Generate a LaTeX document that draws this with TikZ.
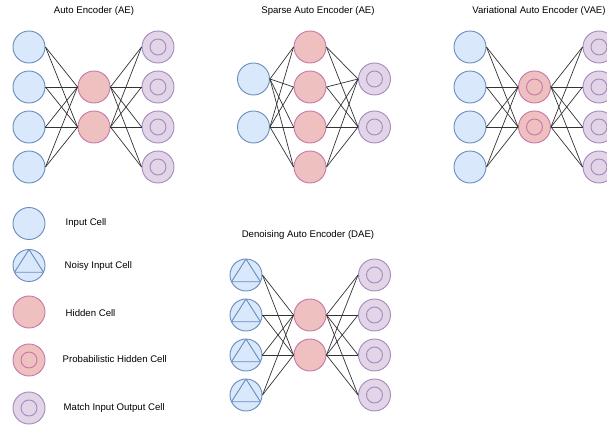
\documentclass[tikz,border=0pt]{standalone}
\usepackage{fontspec}
\setmainfont{Liberation Sans}
\definecolor{infill}{HTML}{DAE8FC}
\definecolor{inedge}{HTML}{6C8EBF}
\definecolor{hidfill}{HTML}{EFC0C0}
\definecolor{hidedge}{HTML}{C878A8}
\definecolor{outfill}{HTML}{E1D5E7}
\definecolor{outedge}{HTML}{A68BBE}
\definecolor{linkgray}{HTML}{333333}
\begin{document}
\begin{tikzpicture}[x=0.03cm,y=-0.03cm,
    cell/.style={circle,minimum size=0.96cm,inner sep=0pt,line width=0.8pt},
    incell/.style={cell,fill=infill,draw=inedge},
    noisycell/.style={incell,path picture={\draw[inedge,line width=0.8pt]
        (path picture bounding box.center) +(90:0.48cm) -- +(205:0.48cm) -- +(335:0.48cm) -- cycle;}},
    hidcell/.style={cell,fill=hidfill,draw=hidedge},
    probcell/.style={hidcell,path picture={\draw[hidedge,line width=0.8pt]
        (path picture bounding box.center) circle [radius=0.24cm];}},
    matchcell/.style={cell,fill=outfill,draw=outedge,path picture={\draw[outedge,line width=0.8pt]
        (path picture bounding box.center) circle [radius=0.24cm];}},
    link/.style={linkgray,line width=0.6pt},
    title/.style={font=\fontsize{8.2}{10}\selectfont},
    legtext/.style={font=\fontsize{8.2}{10}\selectfont,anchor=west,inner sep=0pt}]
        \useasboundingbox (0,0) rectangle (607,426);

        % Auto Encoder
        \node[title] (aetitle) at (94,11) {Auto Encoder (AE)};
        \foreach \i/\y in {1/47,2/87,3/127,4/167} {
            \node[incell] (aein\i) at (29,\y) {};
            \node[matchcell] (aeout\i) at (158,\y) {};
        }
        \node[hidcell] (aehid1) at (94,87) {};
        \node[hidcell] (aehid2) at (94,127) {};
        \foreach \i in {1,...,4} \foreach \j in {1,2} {
            \draw[link] (aein\i.east) -- (aehid\j.west);
            \draw[link] (aehid\j.east) -- (aeout\i.west);
        }

        % Sparse Auto Encoder
        \node[title] (saetitle) at (318,11) {Sparse Auto Encoder (AE)};
        \foreach \j/\y in {1/47,2/87,3/127,4/167}
            \node[hidcell] (saehid\j) at (310,\y) {};
        \foreach \i/\y in {1/79,2/127} {
            \node[incell] (saein\i) at (253.5,\y) {};
            \node[matchcell] (saeout\i) at (374.5,\y) {};
        }
        \foreach \i in {1,2} \foreach \j in {1,...,4} {
            \draw[link] (saein\i.east) -- (saehid\j.west);
            \draw[link] (saehid\j.east) -- (saeout\i.west);
        }

        % Variational Auto Encoder
        \node[title] (vaetitle) at (539,11) {Variational Auto Encoder (VAE)};
        \foreach \i/\y in {1/47,2/87,3/127,4/167} {
            \node[incell] (vaein\i) at (470,\y) {};
            \node[matchcell] (vaeout\i) at (599,\y) {};
        }
        \node[probcell] (vaehid1) at (534.5,87) {};
        \node[probcell] (vaehid2) at (534.5,127) {};
        \foreach \i in {1,...,4} \foreach \j in {1,2} {
            \draw[link] (vaein\i.east) -- (vaehid\j.west);
            \draw[link] (vaehid\j.east) -- (vaeout\i.west);
        }

        % Denoising Auto Encoder
        \node[title] (daetitle) at (308,235) {Denoising Auto Encoder (DAE)};
        \foreach \i/\y in {1/275,2/315,3/355,4/395} {
            \node[noisycell] (daein\i) at (246,\y) {};
            \node[matchcell] (daeout\i) at (374.5,\y) {};
        }
        \node[hidcell] (daehid1) at (310,315) {};
        \node[hidcell] (daehid2) at (310,355) {};
        \foreach \i in {1,...,4} \foreach \j in {1,2} {
            \draw[link] (daein\i.east) -- (daehid\j.west);
            \draw[link] (daehid\j.east) -- (daeout\i.west);
        }

        % legend
        \node[incell] (leginput) at (29,223.5) {};
        \node[noisycell] (legnoisy) at (29,265.5) {};
        \node[hidcell] (leghidden) at (29,312) {};
        \node[probcell] (legprob) at (29,360) {};
        \node[matchcell] (legmatch) at (29,408) {};
        \node[legtext] (leginputtext) at (65.5,223.5) {Input Cell};
        \node[legtext] (legnoisytext) at (64.5,266) {Noisy Input Cell};
        \node[legtext] (leghiddentext) at (65.5,313) {Hidden Cell};
        \node[legtext] (legprobtext) at (62.5,359) {Probabilistic Hidden Cell};
        \node[legtext] (legmatchtext) at (63.5,408) {Match Input Output Cell};
    \end{tikzpicture}
\end{document}
